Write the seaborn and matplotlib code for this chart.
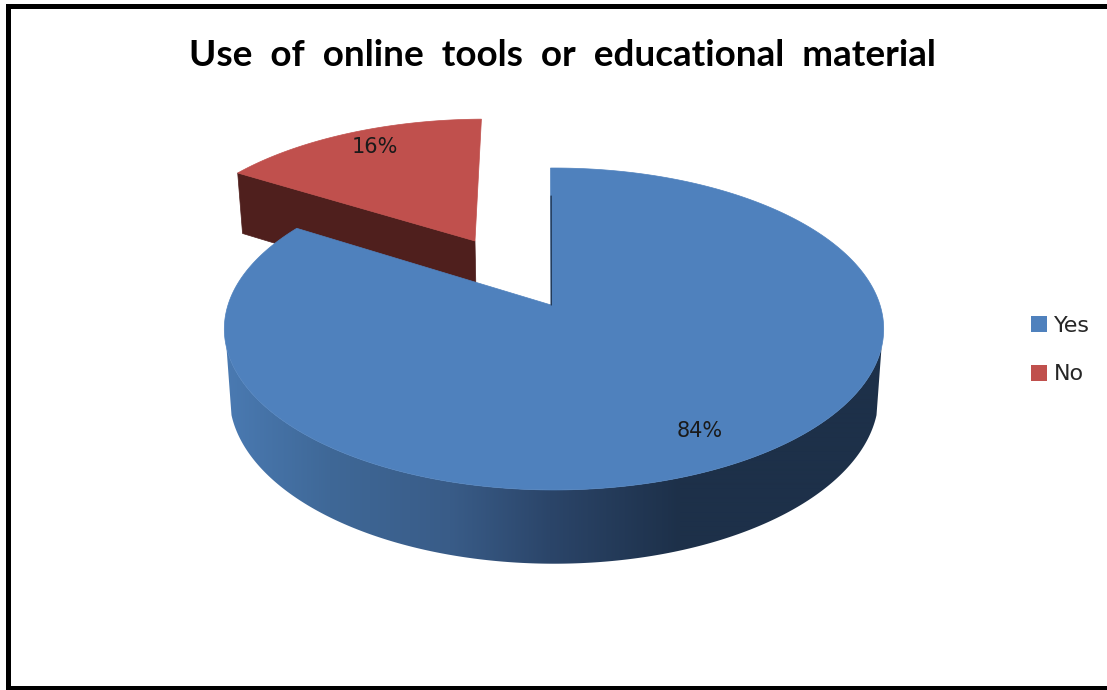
import numpy as np
import matplotlib
matplotlib.use("Agg")
import matplotlib.pyplot as plt
import seaborn as sns
from matplotlib.patches import Patch, Polygon
from matplotlib.colors import to_rgb

title = "Use of online tools or educational material"
labels = ["Yes", "No"]
values = [84, 16]
top_colors = ["#4F81BD", "#C0504D"]
red_side = "#4F1F1D"
# shading of the blue rim, left to right
rim_x = [225, 330, 450, 550, 680, 885]
rim_colors = ["#4A7AB2", "#3F6897", "#395C88", "#2B4569", "#1D3049", "#1D3049"]

# pie projection, fitted to the picture
cx, a, k = 554, 326, 0.149
top_y, top_b = 305, 157.4
bot_y, bot_b, bot_a = 371, 164, 321
explode = {"No": (-0.258, 0.433)}


def top_pt(u, v):
    d = 1 + k * v
    return cx + a * u / d, top_y - top_b * v / d


def bot_pt(u, v):
    d = 1 + k * v
    return cx + bot_a * u / d, bot_y - bot_b * v / d


def ring(t):
    return np.cos(np.radians(t)), np.sin(np.radians(t))


sns.set_theme(style="white")
plt.rcParams["font.family"] = ["Lato", "DejaVu Sans"]

fig = plt.figure(figsize=(11.07, 6.9), dpi=100)
ax = fig.add_axes([0, 0, 1, 1])

# chart frame (no right side in the picture)
ax.fill([6, 1107, 1107, 6], [4, 4, 9, 9], color="black", lw=0)
ax.fill([6, 11, 11, 6], [4, 4, 690, 690], color="black", lw=0)
ax.fill([6, 1107, 1107, 6], [686, 686, 690, 690], color="black", lw=0)

# slice angles come from the values, clockwise from the top
start = 90.7
sweeps = [v / sum(values) * 360 for v in values]
yes_t = np.linspace(start, start - sweeps[0], 400)
no_t = np.linspace(start - sweeps[0], start - 360, 80)

# exploded slice first, the big one overlaps it
eu, ev = explode["No"]
u, v = ring(no_t)
xs, ys = top_pt(u + eu, v + ev)
ax_x, ax_y = top_pt(eu, ev)
bx0, by0 = bot_pt(u[0] + eu, v[0] + ev)
bx1, by1 = bot_pt(eu, ev)
ax.fill([xs[0], ax_x, bx1, bx0], [ys[0], ax_y, by1, by0], color=red_side, lw=0.5)
ax.fill(np.r_[ax_x, xs], np.r_[ax_y, ys], color=top_colors[1], lw=0.5)

# rim of the big slice, a horizontal gradient clipped to the rim outline
r_t = np.linspace(195, 345, 300)
r_u, r_v = ring(r_t)
tx, ty = top_pt(r_u, r_v)
bx, by = bot_pt(r_u, r_v)
rgb = np.array([to_rgb(c) for c in rim_colors])
grad_x = np.arange(220, 890)
grad = np.stack([np.interp(grad_x, rim_x, rgb[:, j]) for j in range(3)], axis=-1)[None, :, :]
im = ax.imshow(grad, extent=(220, 890, 600, 300), aspect="auto", interpolation="bilinear", zorder=1)
outline = Polygon(np.c_[np.r_[tx, bx[::-1]], np.r_[ty, by[::-1]]], transform=ax.transData,
                  facecolor="none", edgecolor="none")
ax.add_patch(outline)
im.set_clip_path(outline)

# top of the big slice
u, v = ring(yes_t)
xs, ys = top_pt(u, v)
ax0, ay0 = top_pt(-0.009, 0)
ax.fill(np.r_[ax0, xs], np.r_[ay0, ys], color=top_colors[0], lw=0.5, zorder=2)
# dark sliver on the cut edge
ax.plot([xs[0] + 0.6, ax0 + 0.2], [ys[0] + 28, ay0], color="#1D3049", lw=0.9, zorder=3)

ax.set_xlim(0, 1107)
ax.set_ylim(690, 0)
ax.axis("off")

ax.text(375, 147, f"{values[1]}%", ha="center", va="center", fontsize=15, color="#1a1a1a",
        family=["DejaVu Sans"], zorder=4)
ax.text(700, 431, f"{values[0]}%", ha="center", va="center", fontsize=15, color="#1a1a1a",
        family=["DejaVu Sans"], zorder=4)

# the original title has wide word gaps
ax.text(562, 55, title.replace(" ", "  "), ha="center", va="center", fontsize=26.6,
        fontweight="bold", color="black")

handles = [Patch(facecolor=c, edgecolor="none", label=l) for c, l in zip(top_colors, labels)]
ax.legend(handles=handles, loc="center left", bbox_to_anchor=(1011, 350),
          bbox_transform=ax.transData, frameon=False,
          handlelength=0.72, handleheight=0.72, handletextpad=0.3, labelspacing=1.3,
          prop={"family": ["DejaVu Sans"], "size": 16})

fig.savefig("out.png", dpi=100)
